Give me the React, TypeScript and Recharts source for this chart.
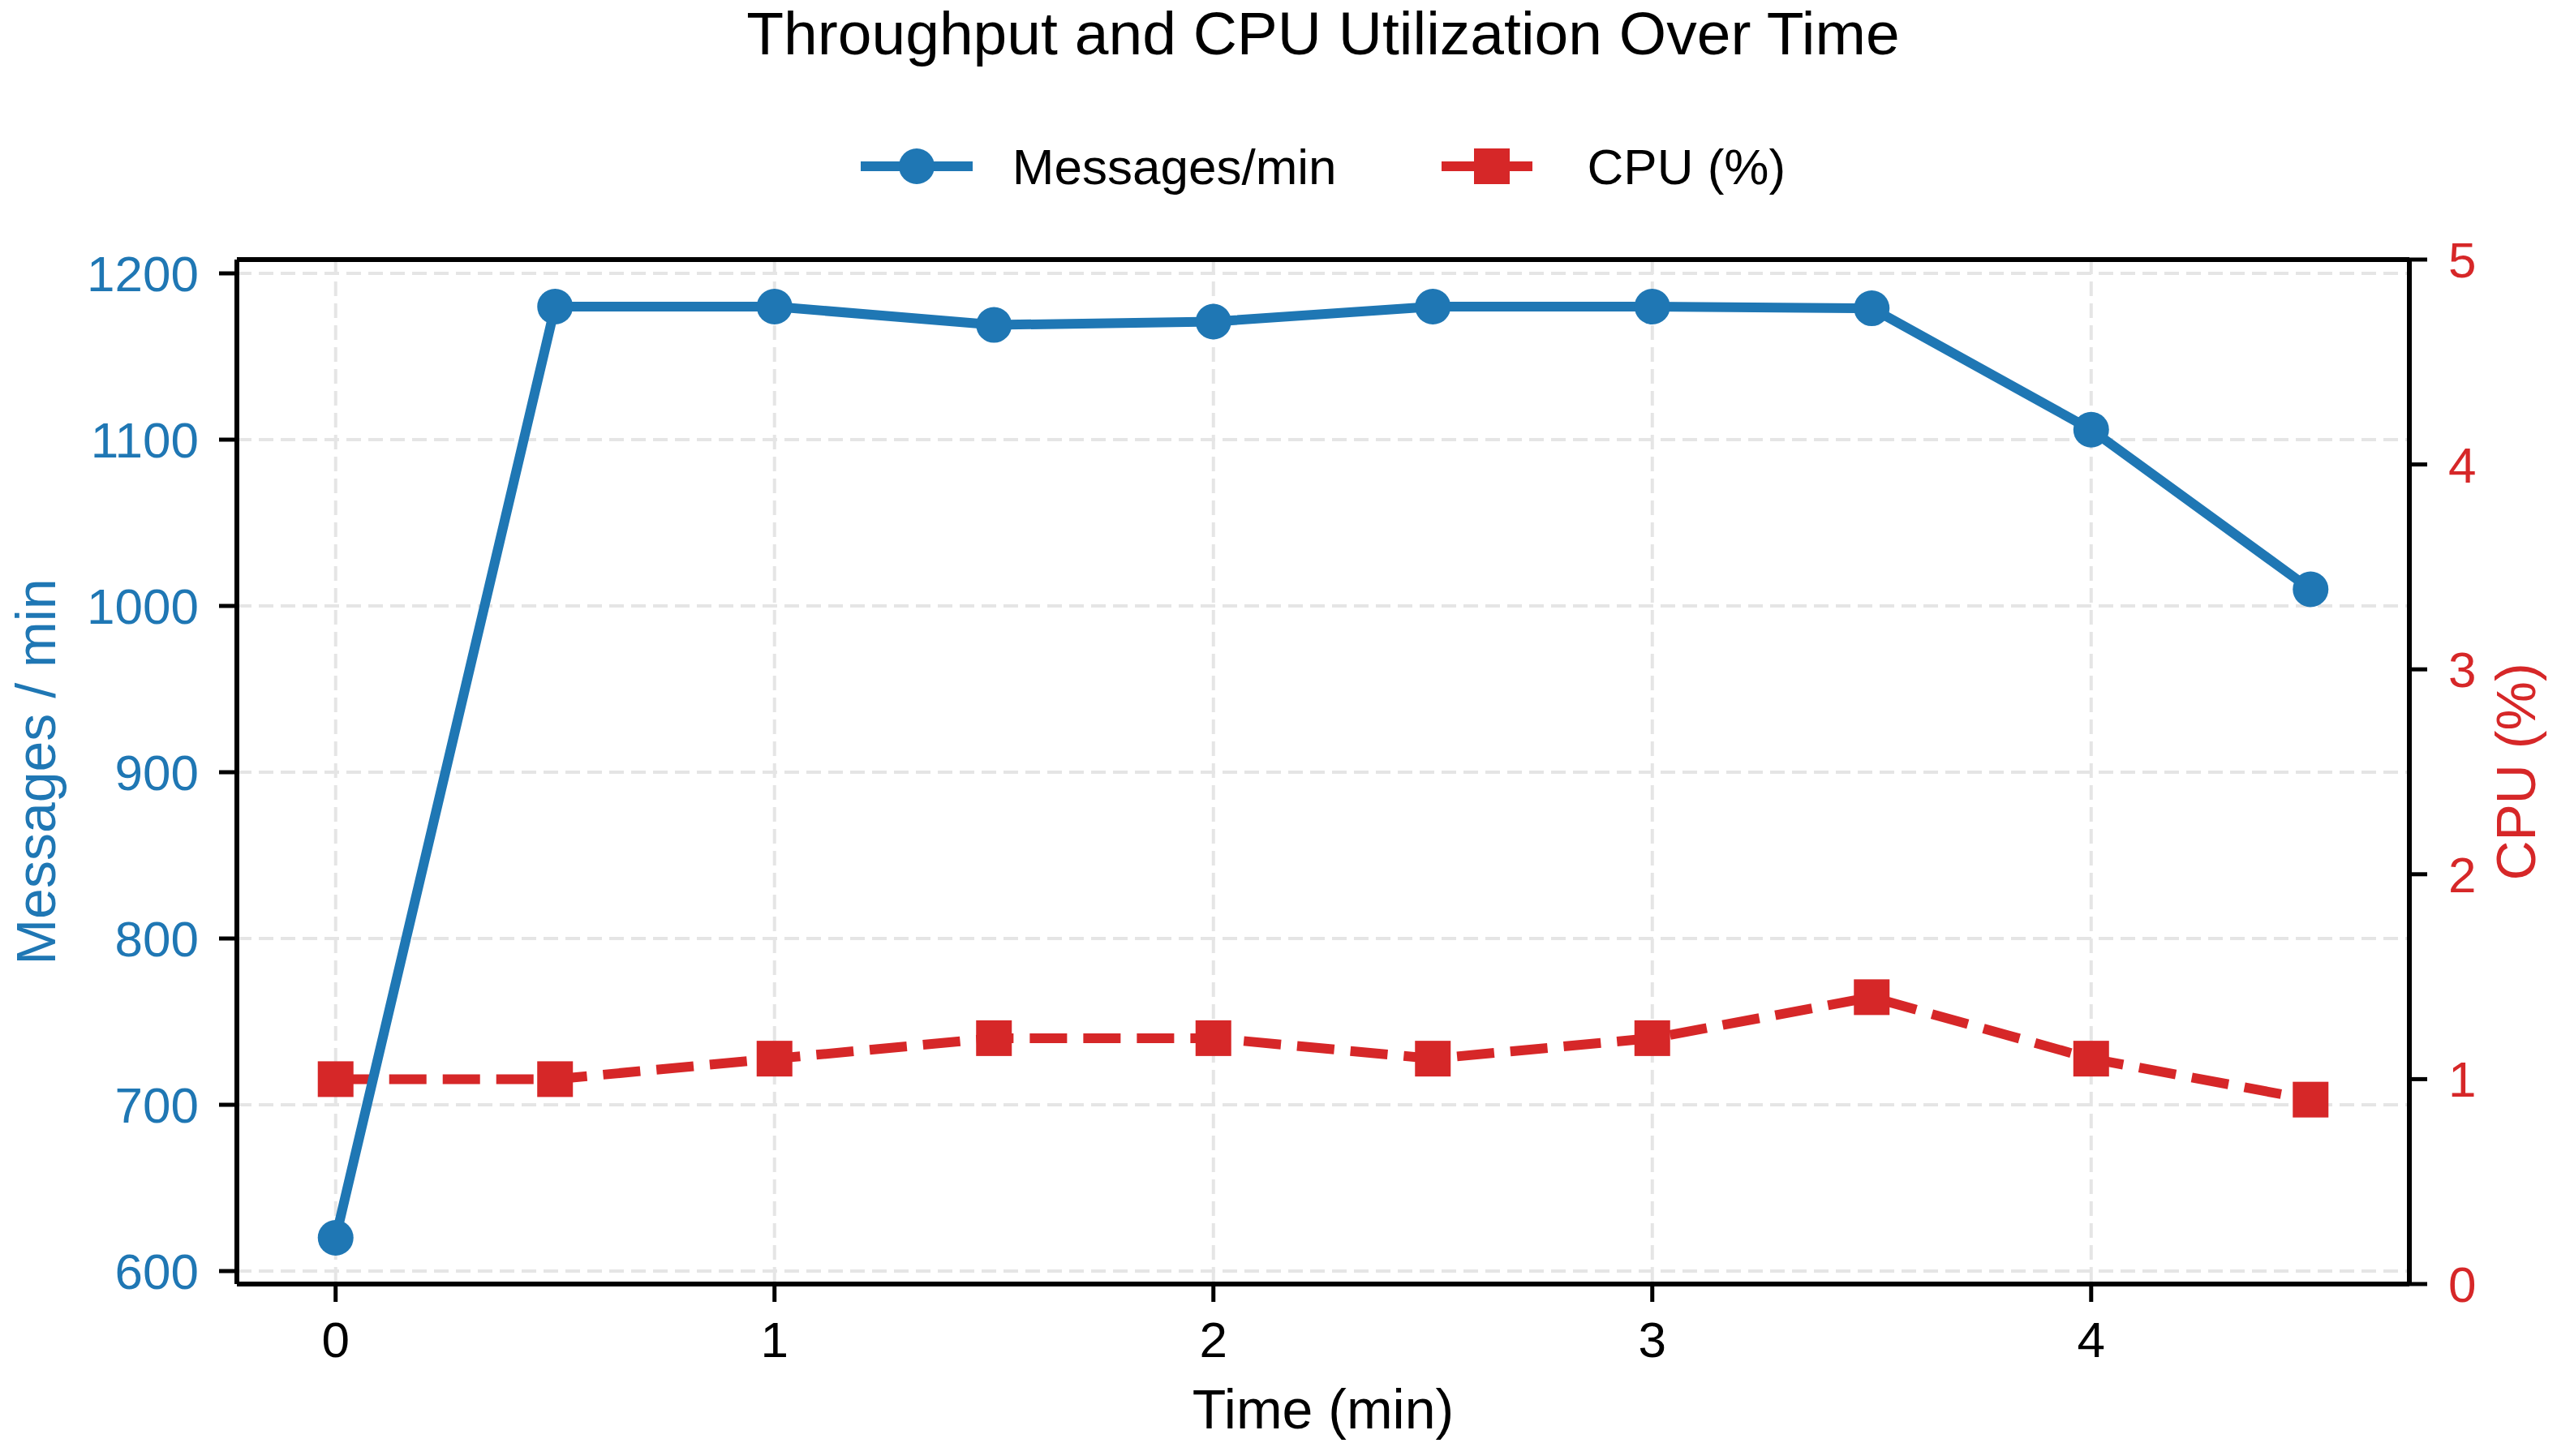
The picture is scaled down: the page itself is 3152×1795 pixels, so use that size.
import React from 'react';
import {
  LineChart,
  Line,
  XAxis,
  YAxis,
  CartesianGrid,
  Legend,
  Label,
  ReferenceLine,
} from 'recharts';

const times = [0, 0.5, 1, 1.5, 2, 2.5, 3, 3.5, 4, 4.5];
const messages = [620, 1180, 1180, 1169, 1171, 1180, 1180, 1179, 1106, 1010];
const cpu = [1.0, 1.0, 1.1, 1.2, 1.2, 1.1, 1.2, 1.4, 1.1, 0.9];

const xTicks = [0, 1, 2, 3, 4];
const msgTicks = [600, 700, 800, 900, 1000, 1100, 1200];
const cpuTicks = [0, 1, 2, 3, 4, 5];

const seriesNames = ['Messages/min', 'CPU (%)'];

const BLUE = '#1f77b4';
const RED = '#d62728';
const FONT = '"Liberation Sans", Arial, Helvetica, sans-serif';

const data = times.map((t, i) => ({ t, msgs: messages[i], cpu: cpu[i] }));

const W = 3152;
const H = 1795;
const CPU_MAX = 5;

function SquareDot(props: any): JSX.Element {
  const { cx, cy, index } = props;
  return <rect key={`sq-${index}`} x={cx - 22} y={cy - 22} width={44} height={44} fill={RED} />;
}

function LegendBox(): JSX.Element {
  return (
    <div
      style={{
        display: 'flex',
        justifyContent: 'center',
        alignItems: 'center',
        height: 90,
        fontFamily: FONT,
        fontSize: 62,
        color: '#000',
        paddingLeft: 110,
      }}
    >
      <svg width={138} height={50} style={{ marginRight: 49 }}>
        <line x1={0} y1={25} x2={138} y2={25} stroke={BLUE} strokeWidth={12} />
        <circle cx={69} cy={25} r={22} fill={BLUE} />
      </svg>
      <span style={{ marginRight: 122 }}>{seriesNames[0]}</span>
      <svg width={138} height={50} style={{ marginRight: 49 }}>
        <line x1={7} y1={25} x2={121} y2={25} stroke={RED} strokeWidth={12} strokeDasharray="46 20" />
        <rect x={47} y={3} width={44} height={44} fill={RED} />
      </svg>
      <span>{seriesNames[1]}</span>
    </div>
  );
}

export default function App(): JSX.Element {
  const axisLine = { stroke: '#000', strokeWidth: 6 };
  const tickLine = { stroke: '#000', strokeWidth: 5 };

  return (
    <div style={{ position: 'absolute', left: 0, top: 0, width: W, height: H, background: '#fff' }}>
      <div
        style={{
          position: 'absolute',
          left: 292,
          width: 2678,
          top: 4,
          textAlign: 'center',
          fontFamily: FONT,
          fontSize: 75,
          lineHeight: '75px',
          color: '#000',
        }}
      >
        Throughput and CPU Utilization Over Time
      </div>
      <LineChart width={W} height={H} data={data} margin={{ top: 320, right: 0, bottom: 0, left: 0 }}>
        <CartesianGrid
          yAxisId="left"
          stroke="#e5e5e5"
          strokeWidth={4}
          strokeDasharray="18 9"
        />
        <XAxis
          dataKey="t"
          type="number"
          domain={[-0.225, 4.725]}
          ticks={xTicks}
          interval={0}
          height={212}
          axisLine={axisLine}
          tickLine={tickLine}
          tickSize={22}
          tickMargin={24}
          tick={{ fontSize: 62, fill: '#000', fontFamily: FONT }}
        >
          <Label
            value="Time (min)"
            position="insideBottom"
            offset={34}
            style={{ fontSize: 68, fill: '#000', fontFamily: FONT }}
          />
        </XAxis>
        <YAxis
          yAxisId="left"
          type="number"
          domain={[592.2, 1208.3]}
          ticks={msgTicks}
          interval={0}
          width={292}
          axisLine={axisLine}
          tickLine={tickLine}
          tickSize={22}
          tickMargin={25}
          tick={{ fontSize: 62, fill: BLUE, fontFamily: FONT }}
        >
          <Label
            content={(p: any) => {
              const vb = p.viewBox;
              const cy = vb.y + vb.height / 2;
              return (
                <text
                  x={68}
                  y={cy}
                  transform={`rotate(-90 68 ${cy})`}
                  textAnchor="middle"
                  fontSize={68}
                  fill={BLUE}
                  fontFamily={FONT}
                >
                  Messages / min
                </text>
              );
            }}
          />
        </YAxis>
        <YAxis
          yAxisId="right"
          orientation="right"
          type="number"
          domain={[0, CPU_MAX]}
          ticks={cpuTicks}
          interval={0}
          width={182}
          axisLine={axisLine}
          tickLine={tickLine}
          tickSize={22}
          tickMargin={26}
          tick={{ fontSize: 62, fill: RED, fontFamily: FONT }}
        >
          <Label
            content={(p: any) => {
              const vb = p.viewBox;
              const cy = vb.y + vb.height / 2;
              const x = vb.x + 155;
              return (
                <text
                  x={x}
                  y={cy}
                  transform={`rotate(-90 ${x} ${cy})`}
                  textAnchor="middle"
                  fontSize={68}
                  fill={RED}
                  fontFamily={FONT}
                >
                  CPU (%)
                </text>
              );
            }}
          />
        </YAxis>
        {/* top spine */}
        <ReferenceLine yAxisId="right" y={CPU_MAX} stroke="#000" strokeWidth={6} ifOverflow="visible" />
        <Legend
          layout="horizontal"
          verticalAlign="middle"
          align="center"
          content={() => <LegendBox />}
          wrapperStyle={{ top: 160, left: 0, width: W }}
        />
        <Line
          yAxisId="right"
          dataKey="cpu"
          stroke={RED}
          strokeWidth={12}
          strokeDasharray="46 20"
          dot={SquareDot}
          activeDot={false}
          isAnimationActive={false}
        />
        <Line
          yAxisId="left"
          dataKey="msgs"
          stroke={BLUE}
          strokeWidth={12}
          dot={{ r: 22, fill: BLUE, stroke: 'none' }}
          activeDot={false}
          isAnimationActive={false}
        />
      </LineChart>
    </div>
  );
}
